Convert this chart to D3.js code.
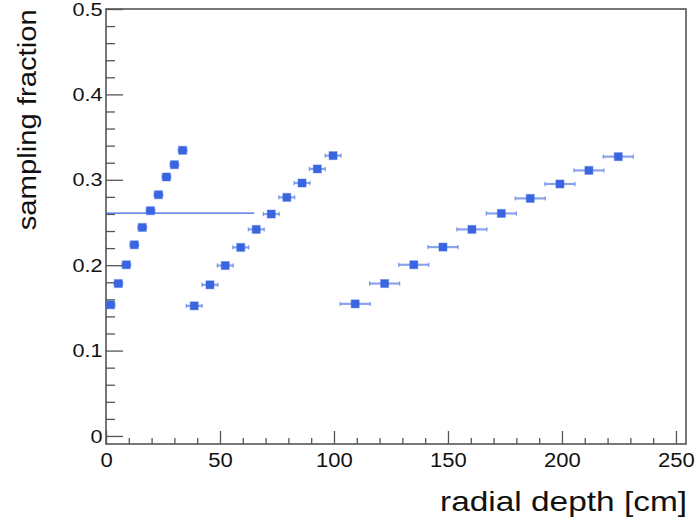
<!DOCTYPE html>
<html><head><meta charset="utf-8">
<script src="https://cdn.jsdelivr.net/npm/d3@7"></script>
<style>body{margin:0;background:#fff}svg{display:block}</style>
</head><body><svg id="c" width="697" height="519"></svg>
<script>
// ---- data ----
const s1x = [2.0, 5.4, 8.9, 12.4, 15.9, 19.5, 23.0, 26.5, 30.0, 33.6];
const s1y = [0.1536, 0.1785, 0.2005, 0.2239, 0.2442, 0.2638, 0.2825, 0.3033, 0.3177, 0.3345];
const s1xerr = [1.9, 1.9, 1.9, 1.9, 1.9, 1.9, 1.9, 1.9, 1.9, 1.9];
const s2x = [38.7, 45.6, 52.3, 59.1, 65.9, 72.5, 79.3, 86.0, 92.7, 99.6];
const s2y = [0.1524, 0.1770, 0.1996, 0.2208, 0.2419, 0.2599, 0.2794, 0.2962, 0.3127, 0.3283];
const s2xerr = [3.5, 3.5, 3.5, 3.5, 3.5, 3.5, 3.5, 3.5, 3.5, 3.5];
const s3x = [109.3, 122.2, 135.0, 147.8, 160.5, 173.4, 186.1, 199.1, 211.8, 224.7];
const s3y = [0.1547, 0.1785, 0.2005, 0.2212, 0.2419, 0.2606, 0.2782, 0.2951, 0.3110, 0.3271];
const s3xerr = [6.6, 6.6, 6.6, 6.6, 6.6, 6.6, 6.6, 6.6, 6.6, 6.6];
const refLineX = [0, 65];
const refLineY = [0.261, 0.261];
const xTickValues = [0, 50, 100, 150, 200, 250];
const xTickLabels = ["0", "50", "100", "150", "200", "250"];
const yTickValues = [0, 0.1, 0.2, 0.3, 0.4, 0.5];
const yTickLabels = ["0", "0.1", "0.2", "0.3", "0.4", "0.5"];
const xTitle = "radial depth [cm]";
const yTitle = "sampling fraction";

// ---- layout ----
const L = 106, R = 686, T = 9, B = 444;
const color = "#3a65e0";
const axisColor = "#555";
const svg = d3.select("#c");
const x = d3.scaleLinear().domain([0, 254.4]).range([L, R]);
const y = d3.scaleLinear().domain([-0.0094, 0.5]).range([B, T]);

// minor ticks
const xMinor = d3.range(10, 254, 10).filter(v => v % 50 !== 0);
const yMinor = d3.range(1, 25).map(i => i * 0.02).filter((v, i) => (i + 1) % 5 !== 0);

svg.append("g").attr("transform", `translate(0,${B})`)
  .call(d3.axisBottom(x).tickValues(xMinor).tickSize(-6).tickSizeOuter(0).tickFormat(""))
  .call(g => { g.select(".domain").remove(); g.selectAll("line").attr("stroke", axisColor).attr("stroke-width", 1.3); });
svg.append("g").attr("transform", `translate(${L},0)`)
  .call(d3.axisLeft(y).tickValues(yMinor).tickSize(-9).tickSizeOuter(0).tickFormat(""))
  .call(g => { g.select(".domain").remove(); g.selectAll("line").attr("stroke", axisColor).attr("stroke-width", 1.3); });

// major ticks + labels
svg.append("g").attr("transform", `translate(0,${B})`)
  .call(d3.axisBottom(x).tickValues(xTickValues).tickFormat((d, i) => xTickLabels[i]).tickSize(-13).tickSizeOuter(0).tickPadding(9.2))
  .call(g => {
    g.select(".domain").remove();
    g.selectAll("line").attr("stroke", axisColor).attr("stroke-width", 1.3);
    g.selectAll("text").attr("fill", "#111").attr("font-family", "'Liberation Sans', Arial, sans-serif")
      .attr("font-size", 19.5).attr("transform", "scale(1.13,1)");
  });
svg.append("g").attr("transform", `translate(${L},0)`)
  .call(d3.axisLeft(y).tickValues(yTickValues).tickFormat((d, i) => yTickLabels[i]).tickSize(-17).tickSizeOuter(0).tickPadding(3.5))
  .call(g => {
    g.select(".domain").remove();
    g.selectAll("line").attr("stroke", axisColor).attr("stroke-width", 1.3);
    g.selectAll("text").attr("fill", "#111").attr("font-family", "'Liberation Sans', Arial, sans-serif")
      .attr("font-size", 19).attr("x", 0).attr("transform", "translate(-3.5,0) scale(1.14,1)");
  });

// frame
svg.append("rect").attr("x", L).attr("y", T).attr("width", R - L).attr("height", B - T)
  .attr("fill", "none").attr("stroke", axisColor).attr("stroke-width", 1.6);

// reference line
svg.append("line")
  .attr("x1", x(refLineX[0])).attr("x2", x(refLineX[1]))
  .attr("y1", y(refLineY[0])).attr("y2", y(refLineY[1]))
  .attr("stroke", color).attr("stroke-width", 1.1);

// series
const series = [
  s1x.map((v, i) => ({ x: v, y: s1y[i], e: s1xerr[i] })),
  s2x.map((v, i) => ({ x: v, y: s2y[i], e: s2xerr[i] })),
  s3x.map((v, i) => ({ x: v, y: s3y[i], e: s3xerr[i] }))
];
const gPts = svg.append("g");
series.forEach(data => {
  const g = gPts.append("g");
  g.selectAll("line.eb").data(data).join("line").attr("class", "eb")
    .attr("x1", d => x(d.x - d.e)).attr("x2", d => x(d.x + d.e))
    .attr("y1", d => y(d.y)).attr("y2", d => y(d.y))
    .attr("stroke", color).attr("stroke-opacity", 0.6).attr("stroke-width", 2.2);
  ["l", "r"].forEach(side => {
    g.selectAll("line.cap" + side).data(data).join("line").attr("class", "cap" + side)
      .attr("x1", d => x(side === "l" ? d.x - d.e : d.x + d.e))
      .attr("x2", d => x(side === "l" ? d.x - d.e : d.x + d.e))
      .attr("y1", d => y(d.y) - 2.2).attr("y2", d => y(d.y) + 2.2)
      .attr("stroke", color).attr("stroke-opacity", 0.6).attr("stroke-width", 1.2);
  });
  g.selectAll("rect").data(data).join("rect")
    .attr("x", d => x(d.x) - 4).attr("y", d => y(d.y) - 4)
    .attr("width", 8).attr("height", 8)
    .attr("fill", color).attr("stroke", color).attr("stroke-opacity", 0.35).attr("stroke-width", 1.2);
});

// titles
svg.append("text").attr("x", 440).attr("y", 511)
  .attr("font-family", "'Liberation Sans', Arial, sans-serif").attr("font-size", 28)
  .attr("fill", "#111").attr("textLength", 247).attr("lengthAdjust", "spacingAndGlyphs")
  .text(xTitle);
svg.append("text").attr("transform", "translate(36,230.3) rotate(-90)")
  .attr("font-family", "'Liberation Sans', Arial, sans-serif").attr("font-size", 25.5)
  .attr("fill", "#111").attr("textLength", 221).attr("lengthAdjust", "spacingAndGlyphs")
  .text(yTitle);
</script></body></html>
